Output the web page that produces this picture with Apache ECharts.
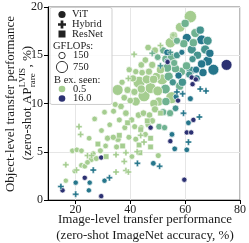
<!DOCTYPE html>
<html><head><meta charset="utf-8">
<script src="https://cdn.jsdelivr.net/npm/echarts@6/dist/echarts.min.js"></script>
<style>html,body{margin:0;padding:0;background:#fff}#c{width:249px;height:243px}</style>
</head><body><div id="c"></div>
<script>
// [imagenet acc %, AP rare %, GFLOPs, B examples seen]
const vit = [
[16.5,2.0,60,0.5],[19.7,3.0,60,0.5],[18.9,5.1,80,0.5],[20.5,5.2,80,0.5],[22.2,5.1,80,0.5],
[22.2,3.6,80,0.5],[23.4,3.5,80,0.5],[24.4,3.9,80,0.5],[25.8,4.2,100,0.5],[27.6,4.3,100,0.5],
[29.1,5.1,100,0.5],[26.5,4.8,80,0.5],[31.7,6.4,120,0.5],[33.8,6.5,120,0.5],[35.5,6.3,150,0.5],
[27.0,8.4,80,0.5],[30.6,9.1,80,0.5],[33.9,9.2,100,0.5],[34.5,9.9,100,0.5],[36.6,9.7,150,0.5],
[38.4,9.0,150,0.5],[35.4,11.4,700,0.5],[37.8,10.6,150,0.5],[39.0,11.4,200,0.5],[39.6,13.5,120,0.5],
[42.0,13.3,120,0.5],[44.3,13.2,150,0.5],[46.8,13.3,200,0.5],[40.6,4.5,80,0.5],[50.2,4.6,100,0.5],
[43.2,12.2,900,0.5],[45.0,10.8,900,0.5],[47.4,11.6,700,0.5],[42.0,10.2,400,0.5],[48.6,10.0,300,0.5],
[50.4,10.2,400,0.5],[51.6,12.5,700,0.5],[52.8,11.5,500,1],[54.0,12.8,400,1],[55.1,10.6,900,0.5],
[43.0,8.8,150,0.5],[44.8,9.0,150,0.5],[47.0,8.8,150,0.5],[49.0,9.4,200,0.5],[52.0,9.1,200,1],
[41.6,7.6,100,0.5],[44.0,7.5,100,0.5],[46.5,7.8,120,0.5],[50.5,7.6,150,1],[52.5,7.5,120,1],
[40.5,8.3,120,0.5],[38.0,7.5,100,0.5],[39.5,6.5,100,0.5],[41.0,12.6,200,0.5],[45.5,14.5,150,0.5],
[48.0,14.0,200,0.5],[49.5,12.8,300,0.5],[50.0,14.8,150,1],[52.0,15.5,200,1],[54.6,16.3,600,0.5],
[53.0,14.6,300,1],[55.8,17.0,300,0.5],[58.2,17.9,500,0.5],[61.9,19.0,1000,0.5],[63.7,17.3,400,1],
[63.0,16.3,300,1],[56.5,13.6,300,1],[58.5,13.3,400,1],[60.5,13.9,300,1],[62.0,13.4,400,2],
[57.0,15.0,200,2],[56.0,14.2,200,1],[58.0,11.8,300,1],[55.5,12.2,200,2],
[44.0,11.5,300,0.5],[46.0,12.5,400,0.5],[48.5,12.5,300,0.5],[50.0,11.3,500,0.5],[53.5,13.7,400,1],
[55.0,14.8,300,1],[51.0,13.5,300,0.5],[49.0,15.5,200,0.5],[46.5,15.8,150,0.5],[44.0,14.0,150,0.5],
[41.5,11.2,200,0.5],[40.0,10.3,150,0.5],[37.0,12.2,120,0.5],[36.0,8.3,100,0.5],[32.5,7.8,80,0.5],
[29.5,7.2,80,0.5],[25.0,6.4,80,0.5],[53.0,10.2,300,1],[54.5,9.0,200,1],[56.5,9.5,150,2],
[59.0,12.2,300,2],[64.5,15.0,300,2],[65.5,17.6,300,2],[59.5,16.2,300,1],[57.0,16.5,200,1],
[60.0,18.3,300,1],[48.0,8.2,150,0.5],[45.5,6.8,100,0.5],[42.0,6.3,100,0.5],[35.0,5.5,100,0.5],[31.0,5.6,80,0.5],
[60.6,16.8,400,4],[66.0,16.6,500,4],[68.2,16.5,400,2],[62.4,15.6,400,2],[67.3,15.6,400,2],
[58.8,15.3,100,4],[62.7,14.6,200,2],[68.2,14.4,500,4],[70.3,13.5,700,4],[66.0,14.1,300,4],
[61.5,13.0,200,2],[53.4,15.3,150,4],[53.4,14.4,80,4],[57.6,12.9,200,4],[56.7,10.7,100,4],
[61.9,10.5,100,4],[61.2,8.0,80,4],[55.2,6.8,80,4],[56.2,5.3,80,4],[60.6,5.2,80,4],
[66.5,13.2,300,4],[69.0,15.2,300,4],[64.0,13.5,200,4],
[48.4,3.8,80,4],[20.1,1.8,60,4],[25.2,1.8,60,4],[24.9,1.0,60,4],[30.6,2.0,60,4],[64.2,12.6,200,4],
[75.1,14.0,700,16],[62.4,12.7,60,16],[63.9,12.5,60,16],[62.7,12.0,60,16],[57.4,10.3,60,16],
[63.0,8.3,60,16],[60.6,7.0,60,16],[62.2,7.0,60,16],[54.6,6.1,60,16],[47.4,7.5,60,16],
[59.7,2.1,60,16],[29.4,0.4,60,16],[29.4,4.4,60,16],[23.4,2.3,60,16],[15.3,1.0,60,16],[53.6,14.3,60,16]
];
const hybrid = [
[21.3,7.6,80,0.5],[21.9,6.8,80,0.5],[16.5,3.65,80,0.5],[20.4,3.1,80,0.5],[24.4,4.6,80,0.5],
[25.9,4.6,80,0.5],[34.8,4.7,80,0.5],[37.8,4.0,80,0.5],[38.4,4.9,80,0.5],[34.8,2.9,80,0.5],
[38.4,3.05,80,0.5],[39.3,2.9,80,0.5],[43.8,6.7,80,0.5],[39.3,12.6,80,0.5],[41.4,15.1,80,0.5],
[51.0,16.0,80,0.5],[55.6,17.1,80,0.5],[48.0,15.2,80,1],[45.0,6.0,80,0.5],[42.5,5.0,80,0.5],
[14.7,1.4,80,4],[20.1,0.6,80,4],[26.5,3.1,80,4],[32.4,2.3,80,4],[42.6,3.8,80,4],
[50.7,3.5,80,4],[61.2,6.0,80,4],[65.2,8.6,80,4],[59.4,9.0,80,4],[57.0,11.2,80,4],
[59.1,11.0,80,4],[65.5,11.5,80,4],[67.6,11.3,80,4],[51.0,13.9,80,2],[54.6,15.3,80,2]
];
const resnet = [
[28.2,5.8,100,0.5],[31.2,4.5,100,0.5],[36.0,6.7,100,0.5],[37.2,5.6,100,0.5],[43.8,7.3,100,0.5],
[43.2,5.7,100,0.5],[47.4,6.4,100,0.5],[47.4,5.5,100,0.5],[43.5,4.9,100,0.5],[51.0,9.0,100,0.5],
[46.2,8.2,100,0.5],[39.0,8.0,100,0.5]
];
const xTicks = [20,40,60,80];
const crest = ['#a5cd90','#7dba91','#59a590','#40908e','#287a8c','#1c6488','#254b7f','#2c3172'];

const FONT = '"Liberation Serif", "Times New Roman", serif';
function prep(arr){
  return arr.slice().sort((a,b)=>b[2]-a[2]).map(d=>[d[0],d[1],d[2],d[3],Math.log2(d[3])]);
}
function sz(v){ return 3 + 0.3*Math.sqrt(v[2]); }
const PLUS = 'path://M2.7,0H5.3V2.7H8V5.3H5.3V8H2.7V5.3H0V2.7H2.7Z';
function plusPts(cx, cy, s){
  const a = s*0.5, b = s*0.17;
  return [[cx-b,cy-a],[cx+b,cy-a],[cx+b,cy-b],[cx+a,cy-b],[cx+a,cy+b],[cx+b,cy+b],[cx+b,cy+a],[cx-b,cy+a],[cx-b,cy+b],[cx-a,cy+b],[cx-a,cy-b],[cx-b,cy-b]];
}

const ctx = document.createElement('canvas').getContext('2d');
function tw(t, size){ ctx.font = size + 'px ' + FONT; return ctx.measureText(t).width; }

const chart = echarts.init(document.getElementById('c'), null, {renderer:'canvas'});

const p1 = '(zero-shot AP', p3 = ', %)';
const w1 = tw(p1,13), wS = Math.max(tw('LVIS',9), tw('rare',9)), w3 = tw(p3,13);
const tot = w1 + wS + w3 + 1, x0 = -tot/2;
function txt(t, x, y, size, align, z){
  return {type:'text',z:z||102,style:{text:t,x:x,y:y,font:size+'px '+FONT,fill:'#1a1a1a',textAlign:align,textVerticalAlign:'middle',align:align,verticalAlign:'middle'}};
}

const legendX = 62;
chart.setOption({
  animation:false,
  grid:{left:48,right:7,top:7,bottom:43,show:true,borderColor:'#777',borderWidth:1},
  xAxis:{type:'value',min:10,max:80,
    axisLine:{lineStyle:{color:'#000',width:1}},
    axisTick:{show:true,length:4,inside:false,customValues:xTicks,lineStyle:{color:'#000'}},
    axisLabel:{customValues:xTicks,color:'#222',fontFamily:FONT,fontSize:12,margin:4},
    splitLine:{show:true,lineStyle:{color:'#e6e6e6',width:1}}},
  yAxis:{type:'value',min:0,max:20,interval:5,
    axisLine:{show:true,lineStyle:{color:'#000',width:1}},
    axisTick:{show:true,length:4,inside:false,lineStyle:{color:'#000'}},
    axisLabel:{color:'#222',fontFamily:FONT,fontSize:12,margin:5},
    splitLine:{show:true,lineStyle:{color:'#e6e6e6',width:1}}},
  visualMap:{type:'continuous',show:false,dimension:4,min:-1,max:4,seriesIndex:[0,1,2],inRange:{color:crest}},
  series:[
    {type:'scatter',name:'ViT',symbol:'circle',symbolSize:sz,data:prep(vit),
     itemStyle:{borderColor:'#fff',borderWidth:0.7,opacity:1}},
    {type:'scatter',name:'ResNet',symbol:'rect',symbolSize:v=>sz(v)-0.5,data:prep(resnet),
     itemStyle:{borderColor:'#fff',borderWidth:0.5,opacity:1}},
    {type:'scatter',name:'Hybrid',symbol:PLUS,symbolSize:v=>sz(v)+0.5,data:prep(hybrid),
     itemStyle:{borderColor:'#fff',borderWidth:0.4,opacity:1}}
  ],
  graphic:[
    {type:'rect',shape:{x:50,y:7.5,width:62,height:97,r:2},style:{fill:'rgba(255,255,255,0.85)',stroke:'#cfcfcf',lineWidth:1},z:100},
    {type:'circle',shape:{cx:legendX,cy:14.5,r:3.6},style:{fill:'#222'},z:101},
    {type:'polygon',shape:{points:plusPts(legendX,24.5,8)},style:{fill:'#222'},z:101},
    {type:'rect',shape:{x:legendX-3.5,y:30.5,width:7,height:7},style:{fill:'#222'},z:101},
    {type:'circle',shape:{cx:legendX,cy:55.5,r:3.2},style:{fill:'#fff',stroke:'#222',lineWidth:0.9},z:101},
    {type:'circle',shape:{cx:legendX,cy:67,r:5.6},style:{fill:'#fff',stroke:'#222',lineWidth:0.9},z:101},
    {type:'circle',shape:{cx:legendX,cy:89,r:3.3},style:{fill:'#a5cd90'},z:101},
    {type:'circle',shape:{cx:legendX,cy:98.5,r:3.3},style:{fill:'#2c3172'},z:101},
    txt('ViT',72,14.5,10.5,'left'), txt('Hybrid',72,24.5,10.5,'left'), txt('ResNet',72,34,10.5,'left'),
    txt('GFLOPs:',53,46.5,10.5,'left'), txt('150',73,55.5,10.5,'left'), txt('750',73,67,10.5,'left'),
    txt('B ex. seen:',54,80,10.5,'left'), txt('0.5',73,89,10.5,'left'), txt('16.0',73,98.5,10.5,'left'),
    txt('Image-level transfer performance',145,220,13,'center',50),
    txt('(zero-shot ImageNet accuracy, %)',145,236,13,'center',50),
    {type:'group',x:11,y:104,rotation:Math.PI/2,z:50,children:[
      txt('Object-level transfer performance',0,0,13,'center',50)
    ]},
    {type:'group',x:28,y:103,rotation:Math.PI/2,z:50,children:[
      txt(p1,x0,0,13,'left',50),
      txt('LVIS',x0+w1+0.5,-5,9,'left',50),
      txt('rare',x0+w1+0.5,5,9,'left',50),
      txt(p3,x0+w1+wS+1,0,13,'left',50)
    ]}
  ]
});
</script></body></html>
